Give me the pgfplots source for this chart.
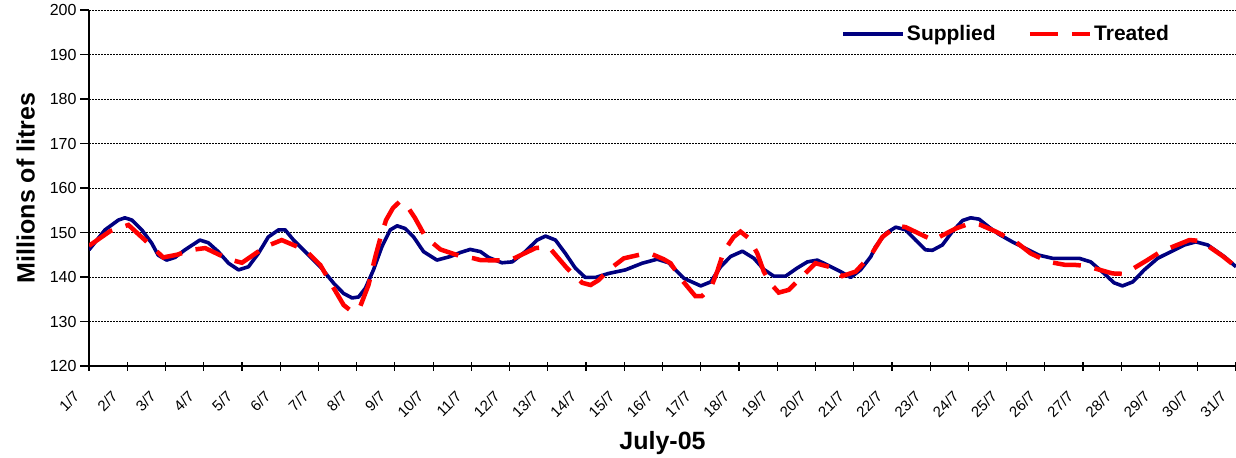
\documentclass[border=0pt]{standalone}
\usepackage{fontspec}
\setmainfont{Liberation Sans}
\usepackage{pgfplots}
\pgfplotsset{compat=1.18}
\definecolor{supplied}{RGB}{0,0,128}
\definecolor{treated}{RGB}{255,0,0}

\begin{document}
\begin{tikzpicture}
\begin{axis}[
  scale only axis,
  width=1147pt, height=356pt,
  xmin=1, xmax=31,
  ymin=120, ymax=200,
  ytick={120,130,...,200},
  xtick={1,...,31},
  xticklabels={1/7,2/7,3/7,4/7,5/7,6/7,7/7,8/7,9/7,10/7,11/7,12/7,13/7,14/7,15/7,16/7,17/7,18/7,19/7,20/7,21/7,22/7,23/7,24/7,25/7,26/7,27/7,28/7,29/7,30/7,31/7},
  axis x line*=bottom,
  axis y line*=left,
  axis line style={line width=1.6pt, -},
  xtick align=center,
  ytick align=outside,
  major tick length=9pt,
  tick style={line width=1.2pt, black},
  ymajorgrids=true,
  grid style={black, line width=0.9pt, dash pattern=on 2pt off 1pt},
  /pgf/number format/assume math mode=true,
  yticklabel style={font=\fontsize{16}{18}\selectfont},
  xticklabel style={font=\fontsize{15}{17}\selectfont, xshift=-10pt, yshift=-21pt, rotate=45, anchor=east},
  xlabel={\textbf{July-05}},
  ylabel={\textbf{Millions of litres}},
  xlabel style={font=\fontsize{25}{28}\selectfont, yshift=-5pt},
  ylabel style={font=\fontsize{25}{28}\selectfont},
  ylabel shift=8pt,
  legend columns=2,
  legend style={at={(rel axis cs:0.946,0.933)}, anchor=east, draw=none, fill=none,
    font=\fontsize{21}{23}\selectfont\bfseries,
    /tikz/every even column/.append style={column sep=30pt}},
  legend image code/.code={\draw[#1] (0pt,0pt) -- (60pt,0pt);},
  clip=true,
]
\addplot[supplied, line width=3.6pt, line join=round] coordinates {
(1.00,146.1)(1.42,150.6)(1.77,152.8)(1.94,153.3)(2.12,152.8)(2.38,150.6)(2.64,147.6)(2.81,144.9)(3.03,143.8)(3.25,144.4)(3.51,146.1)(3.90,148.3)(4.12,147.7)(4.38,145.7)(4.65,143.1)(4.91,141.6)(5.17,142.3)(5.43,145.3)(5.69,149.0)(5.96,150.6)(6.13,150.6)
(6.35,148.3)(6.70,145.3)(7.05,142.3)(7.40,138.6)(7.66,136.3)(7.88,135.3)(8.05,135.5)(8.23,137.5)(8.44,141.6)(8.66,146.8)(8.88,150.6)(9.06,151.5)(9.27,150.9)(9.49,149.0)(9.75,145.7)(10.10,143.8)(10.45,144.6)(10.71,145.5)(10.97,146.2)(11.24,145.7)
(11.45,144.4)(11.80,143.2)(12.07,143.4)(12.41,145.7)(12.72,148.3)(12.94,149.2)(13.20,148.3)(13.46,145.3)(13.72,142.0)(13.98,139.9)(14.25,139.9)(14.59,140.8)(15.03,141.6)(15.47,143.1)(15.86,144.0)(16.16,143.2)(16.34,141.6)
(16.56,139.7)(17.00,138.0)(17.26,138.9)(17.52,142.3)(17.78,144.6)(18.09,145.8)(18.39,144.2)(18.65,141.7)(18.91,140.2)(19.22,140.2)(19.52,142.0)(19.79,143.4)(20.05,143.8)(20.31,142.7)(20.66,141.2)(20.92,139.9)(21.18,141.6)(21.45,144.6)
(21.57,146.8)(21.84,149.8)(22.10,151.2)(22.36,150.6)(22.62,148.3)(22.88,146.1)(23.06,146.0)(23.32,147.2)(23.58,150.2)(23.85,152.7)(24.06,153.3)(24.28,153.0)(24.54,151.2)(24.80,149.6)(25.15,147.9)(25.50,146.4)(25.85,144.9)(26.20,144.2)(26.55,144.2)
(26.90,144.2)(27.20,143.4)(27.55,140.8)(27.81,138.7)(28.03,138.0)(28.30,138.9)(28.60,141.6)(28.95,144.2)(29.30,145.7)(29.65,147.2)(29.95,147.9)(30.26,147.2)(30.69,144.6)(31.00,142.3)
};
\addlegendentry{Supplied}
\addplot[treated, line width=4.5pt, dash pattern=on 28pt off 14pt] coordinates {
(1.00,147.0)(1.55,150.3)(2.03,151.7)(2.55,147.6)(2.94,144.4)(3.30,145.0)(3.69,146.1)(4.04,146.5)(4.65,144.0)(5.00,143.2)(5.61,146.8)(6.04,148.3)
(6.65,146.1)(7.05,142.7)(7.40,137.5)(7.66,133.7)(7.88,132.2)(8.09,133.3)(8.31,138.2)(8.49,144.6)(8.62,148.7)(8.77,152.8)(8.95,155.5)(9.12,156.9)(9.27,156.6)(9.53,153.2)(9.80,149.0)(10.19,146.2)(10.71,144.7)(11.06,144.2)(11.24,143.8)
(11.80,143.7)(12.07,144.0)(12.68,146.5)(13.02,146.8)(13.50,142.0)(13.90,138.7)(14.12,138.2)(14.33,139.3)(14.59,141.6)(14.99,144.2)(15.55,145.3)(15.73,145.1)(16.03,144.0)
(16.21,143.1)(16.51,139.3)(16.86,135.7)(17.03,135.7)(17.26,137.5)(17.43,141.2)(17.60,145.7)(17.86,149.0)(18.04,150.2)(18.26,148.7)(18.48,145.3)(18.65,141.2)(18.82,138.6)(19.04,136.5)(19.30,137.1)(19.65,140.1)
(20.00,143.1)(20.40,142.2)(20.70,140.2)(21.05,141.2)(21.45,144.9)(21.75,149.0)(22.14,151.5)(22.36,151.2)(22.97,148.7)(23.06,148.2)(23.67,150.9)(24.06,152.1)(24.32,151.7)(24.72,150.2)(25.24,147.9)(25.63,145.3)
(26.10,143.4)(26.55,142.7)(26.81,142.7)(27.07,142.5)(27.77,140.8)(28.08,140.7)(28.68,143.8)(29.03,145.7)(29.78,148.3)(30.08,148.1)(30.65,144.7)(31.00,142.3)
};
\addlegendentry{Treated}
\coordinate (sw) at (rel axis cs:0,0);
\coordinate (ne) at (rel axis cs:1,1);
\end{axis}
\pgfresetboundingbox
\path ([shift={(-89pt,-91pt)}]sw) rectangle ([shift={(0pt,10pt)}]ne);
\end{tikzpicture}
\end{document}
